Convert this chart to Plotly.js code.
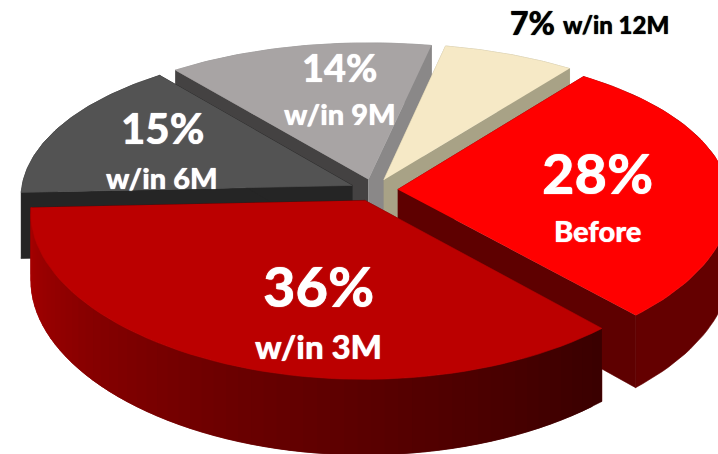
<!DOCTYPE html>
<html>
<head>
<meta charset="utf-8">
<script src="https://cdn.plot.ly/plotly-3.0.1.min.js"></script>
<style>html,body{margin:0;padding:0;background:#fff;overflow:hidden}</style>
</head>
<body>
<div id="chart" style="width:718px;height:454px"></div>
<script>
// Data, clockwise from the start angle
var categories = ["Before", "w/in 3M", "w/in 6M", "w/in 9M", "w/in 12M"];
var shares = [28, 36, 15, 14, 7];

// Styles per slice
var topColors = ["#ff0000", "#bb0000", "#535353", "#a8a4a4", "#f6e9c6"];
var rimColors = ["#640000", null, "#222222", "#8c8a8a", "#a8a286"];
var cutColors = ["#5e0000", "#5e0000", "#252525", "#8a8888", "#a8a286"];
var cutColorsFirst = ["#5e0000", "#5e0000", "#252525", "#444242", "#a8a286"];
var drawOrder = [3, 4, 2, 0, 1];

// Projection of the tilted disc
var START = 53, CX = 374, CY = 190, S = 331, SC = 155, K = 0.119, KX = 0.08, H = 66, E = 0.072, N = 60;

function project(X, Y, drop) {
  var d = 1 + K * Y;
  return [CX + S * X / (1 + KX * Y), CY - SC * Y / d + drop * H / d];
}
function lerp(a, b, t) { return Math.round(a + (b - a) * t); }

var traces = [];
function poly(pts, color) {
  traces.push({
    type: "scatter", mode: "lines", fill: "toself", fillcolor: color,
    x: pts.map(function (p) { return p[0]; }),
    y: pts.map(function (p) { return p[1]; }),
    line: { color: color, width: 0.6 }, hoverinfo: "skip", showlegend: false
  });
}

var total = shares.reduce(function (a, b) { return a + b; }, 0);
var acc = 0;
var slices = shares.map(function (v) {
  var a0 = START - acc / total * 360;
  acc += v;
  return { a0: a0, a1: START - acc / total * 360 };
});

drawOrder.forEach(function (i) {
  var sl = slices[i];
  var mid = (sl.a0 + sl.a1) / 2 * Math.PI / 180;
  var ox = E * Math.cos(mid), oy = E * Math.sin(mid);
  var world = [];
  for (var j = 0; j <= N; j++) {
    var a = (sl.a0 + (sl.a1 - sl.a0) * j / N) * Math.PI / 180;
    world.push([ox + Math.cos(a), oy + Math.sin(a)]);
  }
  var rimTop = world.map(function (w) { return project(w[0], w[1], 0); });
  var rimBot = world.map(function (w) { return project(w[0], w[1], 1); });
  var apexTop = project(ox, oy, 0), apexBot = project(ox, oy, 1);

  function drawCuts() {
    poly([apexTop, rimTop[0], rimBot[0], apexBot], cutColorsFirst[i]);
    poly([apexTop, rimTop[N], rimBot[N], apexBot], cutColors[i]);
  }
  function drawRim() {
    if (rimColors[i]) {
      poly(rimTop.concat(rimBot.slice().reverse()), rimColors[i]);
    } else {
      // gradient side: dark at the right end, lighter towards the left
      for (var s = 0; s < N; s++) {
        var t = s / (N - 1);
        var c = t < 0.5
          ? "rgb(" + lerp(58, 108, t / 0.5) + ",0,0)"
          : "rgb(" + lerp(108, 168, (t - 0.5) / 0.5) + ",0,0)";
        var e = Math.min(s + 2, N);
        poly([rimTop[s], rimTop[e], rimBot[e], rimBot[s]], c);
      }
    }
  }
  if (Math.sin(mid) > 0) { drawRim(); drawCuts(); } else { drawCuts(); drawRim(); }

  poly([apexTop].concat(rimTop), topColors[i]);
});

var FONT = "Lato, 'Open Sans', sans-serif";
function note(text, x, y, size, color) {
  return {
    text: text, x: x, y: y, xref: "x", yref: "y", showarrow: false,
    xanchor: "center", yanchor: "middle",
    font: { family: FONT, size: size, color: color, weight: 900, shadow: "0 0 1px " + color }
  };
}
var pct = shares.map(function (v) { return v + "%"; });
var annotations = [
  note(pct[0], 597, 172, 56, "#ffffff"),
  note(categories[0], 597, 230, 29, "#ffffff"),
  note(pct[1], 318, 285, 56, "#ffffff"),
  note(categories[1], 318, 346, 33, "#ffffff"),
  note(pct[2], 162, 128, 42, "#ffffff"),
  note(categories[2], 162, 177, 29, "#ffffff"),
  note(pct[3], 340, 67, 38, "#ffffff"),
  note(categories[3], 340, 113, 29, "#ffffff"),
  note(pct[4], 532, 22, 32, "#000000"),
  note(categories[4], 616, 24, 24, "#000000")
];

Plotly.newPlot("chart", traces, {
  width: 718, height: 454,
  margin: { l: 0, r: 0, t: 0, b: 0 },
  paper_bgcolor: "#ffffff", plot_bgcolor: "#ffffff",
  showlegend: false,
  xaxis: { range: [0, 718], visible: false, fixedrange: true },
  yaxis: { range: [454, 0], visible: false, fixedrange: true },
  annotations: annotations
}, { staticPlot: true, displayModeBar: false });
</script>
</body>
</html>
